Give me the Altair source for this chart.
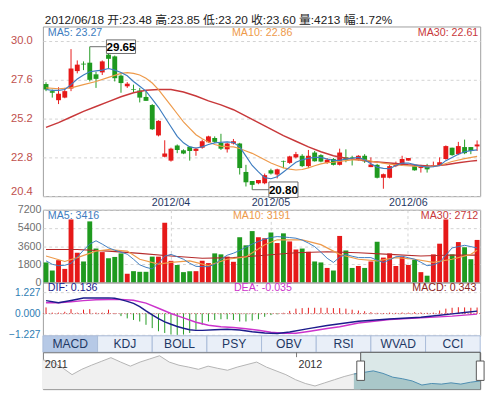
import altair as alt
import pandas as pd

# ---------------- data ----------------
days = list(range(1, 71))
opens = [27.34, 26.9, 26.34, 26.5, 27.06, 28.14, 28.6, 28.66, 27.94, 28.06,
         29.16, 29.05, 27.86, 27.2, 27.02, 26.94, 26.54, 26.04, 24.16, 22.84,
         22.6, 23.54, 23.24, 23.46, 23.2, 23.4, 23.74, 24.0, 23.7, 23.3,
         23.66, 23.66, 21.9, 21.34, 21.2, 21.2, 22.0, 21.74, 22.58, 22.46,
         22.8, 22.9, 22.26, 23.1, 22.94, 22.46, 22.7, 22.34, 22.8, 22.8,
         22.66, 22.9, 22.2, 22.34, 21.54, 21.54, 22.26, 22.34, 22.6, 22.26,
         22.14, 22.24, 22.26, 22.3, 22.7, 23.4, 23.0, 23.44, 23.44, 23.48]
highs = [27.45, 27.0, 27.14, 27.1, 29.5, 28.8, 28.74, 29.65, 28.1, 28.8,
         29.4, 29.1, 27.94, 27.46, 27.3, 27.1, 26.9, 26.1, 25.1, 23.86,
         23.4, 23.6, 23.3, 23.5, 23.4, 23.9, 24.14, 24.1, 24.26, 23.7,
         23.94, 23.7, 22.34, 21.34, 21.4, 21.8, 22.1, 22.1, 22.6, 22.9,
         23.14, 23.0, 23.26, 23.2, 23.0, 22.76, 22.76, 23.34, 23.3, 22.9,
         22.94, 23.0, 22.8, 22.4, 21.8, 22.34, 22.54, 22.9, 22.76, 22.3,
         22.34, 22.4, 22.54, 22.8, 23.54, 23.4, 23.76, 23.9, 23.44, 23.85]
lows = [26.9, 26.5, 26.1, 26.46, 26.9, 28.0, 28.2, 27.5, 27.1, 27.9,
        28.3, 27.5, 26.8, 27.1, 26.8, 26.2, 26.3, 24.5, 24.1, 22.8,
        22.54, 23.06, 23.0, 22.6, 22.9, 23.34, 23.7, 23.7, 23.26, 23.1,
        23.6, 21.74, 21.0, 20.8, 21.14, 21.14, 21.74, 21.5, 22.14, 22.4,
        22.74, 22.2, 22.14, 22.54, 22.5, 22.4, 22.3, 22.3, 22.5, 22.3,
        22.6, 22.46, 22.2, 21.5, 20.86, 21.5, 22.2, 22.3, 22.6, 21.98,
        21.86, 21.86, 22.2, 22.26, 22.66, 22.9, 22.94, 23.0, 23.0, 23.2]
closes = [27.0, 26.8, 26.74, 26.9, 28.3, 28.54, 28.55, 27.6, 27.66, 28.74,
          28.9, 27.7, 27.4, 27.36, 26.98, 26.5, 26.3, 24.54, 25.06, 23.04,
          23.34, 23.26, 23.04, 23.2, 23.34, 23.8, 24.1, 23.76, 23.34, 23.66,
          23.8, 22.14, 21.26, 21.1, 21.4, 21.7, 21.8, 22.06, 22.54, 22.86,
          23.0, 22.26, 22.9, 22.56, 22.54, 22.66, 22.34, 23.1, 22.66, 22.76,
          22.9, 22.56, 22.36, 21.54, 21.76, 22.26, 22.44, 22.7, 22.76, 22.0,
          22.2, 22.06, 22.3, 22.5, 23.5, 22.94, 23.5, 23.06, 23.2, 23.6]
volumes = [1984, 1184, 2208, 1344, 6240, 2944, 2080, 6048, 3360, 3008,
           2400, 2528, 2880, 864, 1120, 1056, 1056, 2560, 2560, 5920,
           2144, 1728, 1024, 1120, 1120, 2144, 1920, 2880, 2784, 2560,
           2048, 4480, 3680, 5088, 4480, 4384, 4960, 3904, 4864, 4064,
           3264, 3360, 3040, 2080, 1984, 1440, 1184, 4608, 3168, 1440,
           1632, 1440, 2080, 4032, 2464, 2880, 1632, 2560, 1728, 2240,
           1024, 672, 2784, 3840, 6240, 2784, 4000, 3488, 2304, 4213]

ma5_vals = [27.0, 26.95, 26.95, 27.0, 27.3, 27.65, 27.9, 28.1, 28.15, 28.2,
            28.3, 28.2, 28.05, 27.85, 27.5, 27.2, 26.9, 26.4, 25.9, 25.3,
            24.7, 24.1, 23.7, 23.45, 23.38, 23.45, 23.6, 23.7, 23.74, 23.76,
            23.72, 23.45, 22.88, 22.3, 21.9, 21.55, 21.48, 21.6, 21.9, 22.2,
            22.5, 22.65, 22.75, 22.8, 22.8, 22.7, 22.62, 22.62, 22.7, 22.75,
            22.8, 22.65, 22.4, 22.2, 22.12, 22.1, 22.3, 22.45, 22.45, 22.35,
            22.26, 22.2, 22.22, 22.3, 22.6, 22.8, 23.0, 23.15, 23.22, 23.27]
ma10_days = [1, 3, 5, 7, 9, 11, 13, 14, 15, 16, 17, 18, 19, 20, 21, 22, 23, 24,
             25, 26, 27, 28, 29, 30, 31, 32, 33, 34, 35, 36, 37, 38, 39, 40, 41,
             42, 43, 44, 45, 46, 47, 48, 50, 52, 54, 56, 58, 60, 62, 64, 66, 68, 70]
ma10_vals = [27.1, 27.05, 27.1, 27.3, 27.5, 27.75, 28.0, 28.05, 28.0, 27.9, 27.7,
             27.4, 27.0, 26.5, 26.0, 25.5, 25.0, 24.6, 24.2, 23.95, 23.75, 23.6,
             23.5, 23.47, 23.45, 23.35, 23.2, 23.05, 22.85, 22.65, 22.45, 22.3,
             22.15, 22.07, 22.02, 22.05, 22.15, 22.28, 22.4, 22.48, 22.5, 22.55,
             22.65, 22.65, 22.5, 22.38, 22.3, 22.25, 22.22, 22.3, 22.55, 22.72, 22.86]
ma30_days = [1, 3, 5, 7, 9, 11, 13, 15, 17, 19, 21, 23, 25, 27, 29, 31, 33, 35,
             37, 39, 41, 43, 45, 47, 49, 51, 53, 55, 57, 59, 61, 63, 65, 67, 69, 70]
ma30_vals = [24.66, 24.95, 25.3, 25.65, 25.95, 26.25, 26.55, 26.8, 26.95, 27.0,
             27.0, 26.85, 26.6, 26.3, 26.05, 25.75, 25.35, 24.95, 24.55, 24.15,
             23.8, 23.45, 23.15, 22.9, 22.75, 22.65, 22.55, 22.48, 22.42, 22.35,
             22.3, 22.26, 22.35, 22.47, 22.57, 22.61]

vma5_vals = [2144, 1800, 1664, 1700, 1900, 2500, 3200, 3800, 4128, 3800,
             3424, 3200, 3000, 2800, 2300, 1750, 1500, 1344, 1900, 2600,
             2784, 2550, 2300, 1900, 1600, 1568, 1568, 1800, 2300, 2700,
             2900, 3168, 3500, 3800, 4064, 4300, 4450, 4544, 4500, 4450,
             4384, 4200, 3900, 3550, 3000, 2400, 1984, 2500, 2784, 2600,
             2464, 2464, 2464, 2200, 1984, 2250, 2550, 2600, 2450, 2304,
             2000, 1664, 1750, 1984, 2700, 3424, 3550, 3680, 3550, 3416]
vma10_days = [1, 4, 6, 9, 11, 14, 16, 19, 21, 24, 27, 30, 33, 36, 38, 42, 45,
              48, 51, 54, 57, 60, 63, 66, 69, 70]
vma10_vals = [2624, 2080, 2464, 3104, 3264, 3104, 2304, 1824, 1984, 2144, 1664,
              2304, 2528, 3744, 4224, 4224, 3744, 2784, 2304, 2144, 2464, 2304,
              1984, 2304, 2784, 3191]
vma30_days = [1, 6, 11, 16, 21, 26, 31, 36, 41, 46, 51, 56, 61, 66, 70]
vma30_vals = [3264, 3264, 3104, 2880, 2624, 2400, 2464, 2700, 2944, 3040, 2944,
              2784, 2624, 2720, 2712]

macd_hist = [0.35, 0.05, 0.05, 0.1, 0.25, 0.05, 0.22, 0.25, 0.05, 0.05, 0.22, 0.03,
             -0.15, -0.28, -0.37, -0.46, -0.65, -0.84, -1.02, -1.12, -1.21, -1.23,
             -1.21, -1.12, -0.93, -0.65, -0.46, -0.37, -0.33, -0.33, -0.37, -0.46,
             -0.46, -0.41, -0.33, -0.19, -0.09, -0.04,
             0.04, 0.15, 0.28, 0.31, 0.33, 0.33, 0.33, 0.33, 0.31, 0.31, 0.28, 0.22,
             0.17, 0.13, 0.08, 0.04, 0.03, 0.05, 0.04, 0.06, 0.05, 0.08, 0.06, 0.04,
             0.05, 0.17, 0.28, 0.33, 0.36, 0.35, 0.33, 0.343]
dif_days = [1, 3, 5, 7, 9, 11, 12, 13, 14, 15, 16, 17, 18, 19, 20, 21, 22, 23, 24,
            25, 26, 28, 30, 32, 34, 36, 38, 40, 43, 46, 51, 56, 61, 64, 66, 68, 70]
dif_vals = [0.74, 0.62, 0.75, 0.89, 0.89, 0.9, 0.88, 0.8, 0.7, 0.58, 0.4, 0.15,
            -0.08, -0.3, -0.48, -0.62, -0.75, -0.85, -0.93, -0.97, -0.97, -0.93,
            -0.9, -0.95, -1.05, -1.12, -1.15, -1.06, -0.87, -0.69, -0.45, -0.32,
            -0.22, -0.1, -0.02, 0.06, 0.136]
dea_days = [1, 3, 5, 7, 9, 11, 13, 15, 17, 19, 21, 23, 25, 27, 29, 31, 33, 35,
            37, 39, 41, 43, 46, 48, 51, 56, 61, 66, 70]
dea_vals = [0.62, 0.62, 0.68, 0.74, 0.79, 0.81, 0.8, 0.76, 0.6, 0.3, 0.0, -0.25,
            -0.5, -0.68, -0.76, -0.8, -0.88, -0.96, -1.08, -1.13, -1.14, -1.03,
            -0.86, -0.76, -0.55, -0.35, -0.25, -0.15, -0.035]

month_days = [21, 37, 59]
month_labels = ["2012/04", "2012/05", "2012/06"]
price_ticks = [20.4, 22.8, 25.2, 27.6, 30.0]
volume_ticks = [0, 1800, 3600, 5400, 7200]
macd_ticks = [-1.227, 0.0, 1.227]

tabs = ["MACD", "KDJ", "BOLL", "PSY", "OBV", "RSI", "WVAD", "CCI"]
active_tab = "MACD"

nav_vals = [9.3, 8.6, 6.8, 4.6, 6.3, 7.6, 8.8, 10.0, 8.6, 7.3, 8.6, 9.6, 10.6, 8.6,
            7.6, 7.0, 6.3, 7.3, 6.6, 6.0, 7.0, 7.8, 8.6, 7.0, 5.8, 4.6, 3.0, 1.8,
            1.0, 2.0, 3.0, 4.0, 4.8, 5.3, 5.8, 5.0, 3.8, 3.3, 2.6, 1.3, 1.8, 1.6,
            2.0, 1.6, 2.2, 2.6]
nav_sel = [32.7, 45]
nav_years = ["2011", "2012"]
nav_year_pos = [0, 26.1]

title_text = "2012/06/18 开:23.48 高:23.85 低:23.20 收:23.60 量:4213 幅:1.72%"
price_labels = ["MA5: 23.27", "MA10: 22.86", "MA30: 22.61"]
volume_labels = ["MA5: 3416", "MA10: 3191", "MA30: 2712"]
macd_labels = ["DIF: 0.136", "DEA: -0.035", "MACD: 0.343"]
# extreme-price call-outs: (day of the extreme, price, day the label box is centred on)
high_day, high_price, high_box_day = 8, 29.65, 13
low_day, low_price, low_box_day = 34, 20.80, 39

# ---------------- styles ----------------
W = 451
FONT = "Liberation Sans, Arial, sans-serif"
CJK = "Liberation Sans, Noto Sans CJK SC, sans-serif"
RED = "#e61919"
GREEN = "#1f9a1f"
BLUE = "#3d7cc0"
ORANGE = "#ee9a4a"
DRED = "#c8383a"
GRID = "#d2d2d2"
NOSTROKE = alt.ViewBackground(strokeOpacity=0)

df = pd.DataFrame({"day": days, "open": opens, "high": highs, "low": lows,
                   "close": closes, "volume": volumes})
df["dir"] = ["up" if c >= o else "down" for o, c in zip(opens, closes)]

xscale = alt.Scale(domain=days, paddingInner=0.22, paddingOuter=0.11)
x_grid = alt.X("day:O", scale=xscale, title=None,
               axis=alt.Axis(values=month_days, labels=False, domain=False, ticks=False,
                             grid=True, gridDash=[3, 3], gridColor=GRID, bandPosition=0.5,
                             minExtent=0, maxExtent=0))
x_none = alt.X("day:O", scale=xscale, axis=None)
dir_color = alt.Color("dir:N", scale=alt.Scale(domain=["up", "down"], range=[RED, GREEN]), legend=None)


def yaxis(values, fmt, color, pad, size=11, flush=False):
    return alt.Axis(values=values, format=fmt, title=None, domain=False, ticks=False,
                    labelColor=color, labelPadding=pad, labelFontSize=size, labelFont=FONT,
                    grid=True, gridDash=[3, 3], gridColor=GRID, minExtent=33, maxExtent=33,
                    labelFlush=flush)


def label(text, x, y, color, align, size=11, font=FONT):
    return alt.Chart(pd.DataFrame({"t": [text]})).mark_text(
        align=align, baseline="middle", fontSize=size, font=font, color=color
    ).encode(x=alt.value(x), y=alt.value(y), text="t:N")


def ma_line(dd, vv, color, scale, axis, xenc, width=1.2):
    d = pd.DataFrame({"day": dd, "v": vv})
    return alt.Chart(d).mark_line(color=color, strokeWidth=width).encode(
        x=xenc, y=alt.Y("v:Q", scale=scale, axis=axis, title=None))


# ---------------- header ----------------
header = label(title_text, 2, 6, "#222", "left", 12.2, CJK).properties(
    width=W, height=13, view=NOSTROKE)

# ---------------- price panel ----------------
pscale = alt.Scale(domain=[20.4, 30.9], nice=False, zero=False)
paxis = yaxis(price_ticks, ".1f", "#c0504d", 11, 11.5, True)

wicks = alt.Chart(df).mark_rule(strokeWidth=1).encode(
    x=x_grid, y=alt.Y("low:Q", scale=pscale, axis=paxis, title=None), y2="high:Q", color=dir_color)
bodies = alt.Chart(df).mark_bar().encode(
    x=x_grid, y=alt.Y("open:Q", scale=pscale, axis=paxis, title=None), y2="close:Q", color=dir_color)

p_ma5 = ma_line(days, ma5_vals, BLUE, pscale, paxis, x_grid)
p_ma10 = ma_line(ma10_days, ma10_vals, ORANGE, pscale, paxis, x_grid)
p_ma30 = ma_line(ma30_days, ma30_vals, DRED, pscale, paxis, x_grid, 1.5)


def callout(day, price, box_day, half_w, half_h):
    d = pd.DataFrame({"day": [day], "bday": [box_day], "p": [price], "t": [f"{price:.2f}"]})
    ypos = alt.Y("p:Q", scale=pscale, axis=paxis, title=None)
    conn = alt.Chart(d).mark_rule(color="#6a6a6a", strokeWidth=1).encode(
        x=x_grid, x2="bday:O", y=ypos)
    box = alt.Chart(d).mark_point(
        shape="square", size=(2 * half_w) ** 2, filled=True, color="white",
        stroke="#6a6a6a", strokeWidth=1, opacity=1, scaleY=half_h / half_w).encode(
        x=alt.X("bday:O", scale=xscale, axis=None), y=ypos)
    txt = alt.Chart(d).mark_text(fontSize=12, fontWeight="bold", font=FONT, color="#000").encode(
        x=alt.X("bday:O", scale=xscale, axis=None), y=ypos, text="t:N")
    return [conn, box, txt]


def callout_box(day, price, box_day, half_w, half_h):
    d = pd.DataFrame({"day": [day], "bday": [box_day], "p": [price], "t": [f"{price:.2f}"]})
    ypos = alt.Y("p:Q", scale=pscale, axis=paxis, title=None)
    conn = alt.Chart(d).mark_rule(color="#6a6a6a", strokeWidth=1).encode(
        x=x_grid, x2="bday:O", y=ypos)
    r = half_h / half_w
    box = alt.Chart(d).mark_point(
        shape=f"M-1,-{r:.3f}L1,-{r:.3f}L1,{r:.3f}L-1,{r:.3f}Z", size=(2 * half_w) ** 2,
        filled=True, color="white", stroke="#6a6a6a", strokeWidth=1, opacity=1).encode(
        x=alt.X("bday:O", scale=xscale, axis=None), y=ypos)
    txt = alt.Chart(d).mark_text(fontSize=12, fontWeight="bold", font=FONT, color="#000").encode(
        x=alt.X("bday:O", scale=xscale, axis=None), y=ypos, text="t:N")
    return [conn, box, txt]


price = alt.layer(
    wicks, bodies, p_ma30, p_ma10, p_ma5,
    *callout_box(high_day, high_price, high_box_day, 15, 7),
    *callout_box(low_day, low_price, low_box_day, 15, 8),
    label(price_labels[0], 5, 7, BLUE, "left"),
    label(price_labels[1], 195, 7, ORANGE, "left"),
    label(price_labels[2], 449, 7, DRED, "right"),
).properties(width=W, height=175)

# ---------------- date strip ----------------
mdf_lab = pd.DataFrame({"day": month_days, "t": month_labels})
dates = alt.Chart(mdf_lab).mark_text(fontSize=11, font=FONT, color="#1f3864", baseline="middle").encode(
    x=x_none, y=alt.value(7), text="t:N").properties(width=W, height=14, view=NOSTROKE)

# ---------------- volume panel ----------------
vscale = alt.Scale(domain=[0, 7200], nice=False)
vaxis = yaxis(volume_ticks, "d", "#6f6f6f", 2)
vbars = alt.Chart(df).mark_bar().encode(
    x=x_grid, y=alt.Y("volume:Q", scale=vscale, axis=vaxis, title=None), color=dir_color)
v_ma5 = ma_line(days, vma5_vals, BLUE, vscale, vaxis, x_grid, 1)
v_ma10 = ma_line(vma10_days, vma10_vals, ORANGE, vscale, vaxis, x_grid, 1.2)
v_ma30 = ma_line(vma30_days, vma30_vals, "#b52a2a", vscale, vaxis, x_grid, 1.2)
volume = alt.layer(
    vbars, v_ma30, v_ma10, v_ma5,
    label(volume_labels[0], 5, 7, BLUE, "left"),
    label(volume_labels[1], 196, 7, ORANGE, "left"),
    label(volume_labels[2], 449, 7, DRED, "right"),
).properties(width=W, height=75)

# ---------------- MACD panel ----------------
mscale = alt.Scale(domain=[-1.283, 1.785], nice=False, zero=False)
maxis = yaxis(macd_ticks, ".3f", "#2f7db3", 3, 10.5)
mdf = pd.DataFrame({"day": days, "h": macd_hist, "base": [0.0] * len(days),
                    "sign": ["pos" if h >= 0 else "neg" for h in macd_hist]})
hist = alt.Chart(mdf).mark_rule(strokeWidth=1).encode(
    x=x_none, y=alt.Y("h:Q", scale=mscale, axis=maxis, title=None), y2="base:Q",
    color=alt.Color("sign:N", scale=alt.Scale(domain=["pos", "neg"], range=["#9c2a2a", "#2ca02c"]), legend=None))
zero = alt.Chart(pd.DataFrame({"z": [0.0]})).mark_rule(color="#d06060", strokeDash=[1, 2]).encode(
    y=alt.Y("z:Q", scale=mscale, axis=maxis, title=None))
dif = ma_line(dif_days, dif_vals, "#1c1c8c", mscale, maxis, x_none, 1.5)
dea = ma_line(dea_days, dea_vals, "#cc33cc", mscale, maxis, x_none, 1.5)
macd = alt.layer(
    zero, hist, dea, dif,
    label(macd_labels[0], 5, 6, "#1c1c8c", "left"),
    label(macd_labels[1], 197, 6, "#cc33cc", "left"),
    label(macd_labels[2], 447, 6, "#8b2323", "right"),
).properties(width=W, height=55)

# ---------------- tab bar ----------------
tdf = pd.DataFrame({"tab": tabs, "active": [t == active_tab for t in tabs], "row": ["r"] * len(tabs)})
tbase = alt.Chart(tdf).encode(
    x=alt.X("tab:N", sort=tabs, scale=alt.Scale(domain=tabs, paddingInner=0, paddingOuter=0), axis=None),
    y=alt.Y("row:N", scale=alt.Scale(paddingInner=0, paddingOuter=0), axis=None))
trect = tbase.mark_rect(stroke="#a9bcd9", strokeWidth=1).encode(
    fill=alt.condition("datum.active", alt.value("#b6c9e6"), alt.value("#e9eff8")))
ttext = tbase.mark_text(fontSize=12.5, font=FONT, color="#1f3864").encode(text="tab:N")
tabbar = alt.layer(trect, ttext).properties(width=W, height=17, view=NOSTROKE)

# ---------------- navigator ----------------
ndf = pd.DataFrame({"k": list(range(len(nav_vals))), "v": nav_vals})
kscale = alt.Scale(domain=[0, len(nav_vals) - 1], nice=False, zero=False)
nx = alt.X("k:Q", scale=kscale, axis=None)
nscale = alt.Scale(domain=[0, 11.7], nice=False, zero=True)
ny = alt.Y("v:Q", scale=nscale, axis=None)
sel_df = pd.DataFrame({"a": [nav_sel[0]], "b": [nav_sel[1]]})
sel_start = int(nav_sel[0])
n_area = alt.Chart(ndf).mark_area(color="#f0f0f0").encode(x=nx, y=ny)
n_sel = alt.Chart(sel_df).mark_rect(fill="#dbe8e8", stroke="#555", strokeWidth=1).encode(
    x=alt.X("a:Q", scale=kscale, axis=None), x2="b:Q")
n_sel_area = alt.Chart(ndf).transform_filter(f"datum.k >= {sel_start}").mark_area(color="#a9c7c9").encode(x=nx, y=ny)
n_line = alt.Chart(ndf).transform_filter(f"datum.k <= {sel_start + 1}").mark_line(
    color="#b3b3b3", strokeWidth=1).encode(x=nx, y=ny)
n_sel_line = alt.Chart(ndf).transform_filter(f"datum.k >= {sel_start}").mark_line(
    color="#4a8bb0", strokeWidth=1).encode(x=nx, y=ny)
ydf = pd.DataFrame({"k": nav_year_pos, "t": nav_years})
n_years = alt.Chart(ydf).mark_text(align="left", dx=2, fontSize=11, font=FONT, color="#333").encode(
    x=nx, y=alt.value(13), text="t:N")
n_tick = alt.Chart(ydf.iloc[1:]).mark_rule(color="#777").encode(x=nx, y=alt.value(0), y2=alt.value(5))
hdf = pd.DataFrame({"k": nav_sel})
n_handles = alt.Chart(hdf).mark_point(
    shape="M-0.4,-1L0.4,-1L0.4,1L-0.4,1Z", size=400, filled=True, color="white",
    stroke="#555", strokeWidth=1, opacity=1).encode(x=nx, y=alt.value(19))
nav = alt.layer(n_area, n_sel, n_sel_area, n_line, n_sel_line, n_tick, n_years, n_handles).properties(
    width=W, height=38, view=alt.ViewBackground(stroke="#777"))

chart = alt.vconcat(header, price, dates, volume, macd, tabbar, nav,
                    spacing=0, bounds="flush").properties(
    padding=0
).configure_view(stroke="#9d9d9d").configure_axis(labelFont=FONT)

chart.save("out.html", embed_options={"renderer": "svg", "actions": False})
